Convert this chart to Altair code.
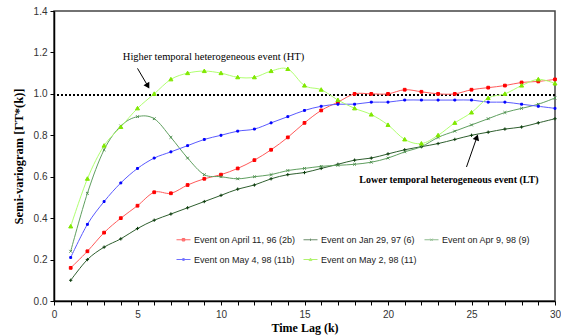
import altair as alt
import pandas as pd

lags = list(range(1, 31))
series_names = [
    "Event on April 11, 96 (2b)",
    "Event on Jan 29, 97 (6)",
    "Event on Apr 9, 98 (9)",
    "Event on May 4, 98 (11b)",
    "Event on May 2, 98 (11)",
]
# legend entries are laid out column by column (2 rows, 3 columns)
legend_order = [
    "Event on April 11, 96 (2b)",
    "Event on May 4, 98 (11b)",
    "Event on Jan 29, 97 (6)",
    "Event on May 2, 98 (11)",
    "Event on Apr 9, 98 (9)",
]
apr11_96 = [0.16, 0.24, 0.33, 0.40, 0.46, 0.525, 0.52, 0.56, 0.59, 0.61, 0.64, 0.68, 0.73, 0.79, 0.86,
            0.92, 0.96, 1.00, 1.00, 1.00, 1.02, 1.01, 1.00, 1.00, 1.02, 1.03, 1.04, 1.055, 1.06, 1.07]
jan29_97 = [0.10, 0.20, 0.26, 0.30, 0.35, 0.39, 0.42, 0.45, 0.48, 0.51, 0.54, 0.56, 0.59, 0.61, 0.62,
            0.64, 0.66, 0.68, 0.69, 0.71, 0.73, 0.745, 0.76, 0.78, 0.80, 0.815, 0.83, 0.84, 0.86, 0.88]
apr9_98 = [0.24, 0.52, 0.73, 0.845, 0.89, 0.88, 0.79, 0.69, 0.61, 0.60, 0.59, 0.60, 0.61, 0.63, 0.64,
           0.65, 0.655, 0.66, 0.67, 0.69, 0.72, 0.745, 0.79, 0.82, 0.85, 0.88, 0.91, 0.93, 0.95, 0.98]
may4_98 = [0.21, 0.37, 0.48, 0.57, 0.64, 0.69, 0.72, 0.75, 0.78, 0.80, 0.82, 0.83, 0.86, 0.89, 0.92,
           0.94, 0.95, 0.95, 0.96, 0.96, 0.97, 0.97, 0.97, 0.97, 0.97, 0.96, 0.96, 0.95, 0.94, 0.93]
may2_98 = [0.36, 0.59, 0.75, 0.84, 0.93, 1.00, 1.07, 1.10, 1.11, 1.10, 1.08, 1.08, 1.11, 1.12, 1.04,
           1.02, 0.97, 0.93, 0.90, 0.85, 0.78, 0.76, 0.80, 0.86, 0.91, 0.98, 1.00, 1.04, 1.07, 1.05]

threshold = [0.995]
x_ticks = list(range(0, 31))
y_ticks = [0.0, 0.2, 0.4, 0.6, 0.8, 1.0, 1.2, 1.4]

ht_label = ["Higher temporal heterogeneous event (HT)"]
ht_label_pos = [9.55, 1.177]
ht_arrow = [[5.0, 1.123], [5.62, 1.038]]
lt_label = ["Lower temporal heterogeneous event (LT)"]
lt_label_pos = [23.65, 0.583]
lt_arrow = [[24.7, 0.647], [25.32, 0.79]]

series_line_colors = {
    "Event on April 11, 96 (2b)": "#ff5a5a",
    "Event on Jan 29, 97 (6)": "#2f5f2f",
    "Event on Apr 9, 98 (9)": "#5f9f5f",
    "Event on May 4, 98 (11b)": "#5a5aff",
    "Event on May 2, 98 (11)": "#b0ff70",
}
series_marker_colors = {
    "Event on April 11, 96 (2b)": "#ff0000",
    "Event on Jan 29, 97 (6)": "#0b3b0b",
    "Event on Apr 9, 98 (9)": "#4f8f4f",
    "Event on May 4, 98 (11b)": "#0000ff",
    "Event on May 2, 98 (11)": "#80e800",
}
series_legend_colors = {
    "Event on April 11, 96 (2b)": "#ff2a2a",
    "Event on Jan 29, 97 (6)": "#2f5f2f",
    "Event on Apr 9, 98 (9)": "#5f9f5f",
    "Event on May 4, 98 (11b)": "#3535ff",
    "Event on May 2, 98 (11)": "#90ee30",
}
series_marker_paths = {
    "Event on April 11, 96 (2b)": "M-0.5,-0.5H0.5V0.5H-0.5Z",
    "Event on Jan 29, 97 (6)": "M-0.6,0H0.6M0,-0.6V0.6",
    "Event on Apr 9, 98 (9)": "M-0.5,-0.5L0.5,0.5M-0.5,0.5L0.5,-0.5",
    "Event on May 4, 98 (11b)": "M-0.5,-0.5H0.5V0.5H-0.5Z",
    "Event on May 2, 98 (11)": "M0,-0.6L0.6,0.45H-0.6Z",
}
series_marker_sizes = {
    "Event on April 11, 96 (2b)": 30,
    "Event on Jan 29, 97 (6)": 30,
    "Event on Apr 9, 98 (9)": 30,
    "Event on May 4, 98 (11b)": 14,
    "Event on May 2, 98 (11)": 45,
}
series_legend_paths = {
    "Event on April 11, 96 (2b)": "M-1,0H1M-0.18,-0.18H0.18V0.18H-0.18Z",
    "Event on Jan 29, 97 (6)": "M-1,0H1M0,-0.16V0.16",
    "Event on Apr 9, 98 (9)": "M-1,0H1M-0.16,-0.16L0.16,0.16M-0.16,0.16L0.16,-0.16",
    "Event on May 4, 98 (11b)": "M-1,0H1M-0.12,-0.12H0.12V0.12H-0.12Z",
    "Event on May 2, 98 (11)": "M-1,0H1M0,-0.2L0.2,0.15H-0.2Z",
}

values = [apr11_96, jan29_97, apr9_98, may4_98, may2_98]
rows = []
for name, vals in zip(series_names, values):
    for k, v in zip(lags, vals):
        rows.append({"k": k, "v": v, "series": name})
df = pd.DataFrame(rows)

serif = "Liberation Serif"
sans = "Liberation Sans"

x_enc = alt.X("k:Q", scale=alt.Scale(domain=[0, 30], nice=False), axis=alt.Axis(
    title="Time Lag (k)", values=x_ticks, labelExpr="datum.value % 5 == 0 ? datum.label : ''",
    labelOverlap=False, grid=False, tickSize=4, labelPadding=4, titlePadding=3, labelFont=sans,
    labelFontSize=10, labelColor="#333", titleFont=serif, titleFontSize=12, titleFontWeight="bold",
    titleColor="#000", domainColor="#000", domainWidth=1.5, tickColor="#000", labelFlush=False))
y_enc = alt.Y("v:Q", scale=alt.Scale(domain=[0, 1.4], nice=False), axis=alt.Axis(
    title="Semi-variogram [ΓT*(k)]", values=y_ticks, format=".1f", grid=False, tickSize=4,
    labelPadding=3, titlePadding=8, labelFont=sans, labelFontSize=10, labelColor="#333",
    titleFont=serif, titleFontSize=12.5, titleFontWeight="bold", titleColor="#000",
    domainColor="#000", domainWidth=1.5, tickColor="#000"))

base = alt.Chart(df)

leg = alt.Legend(title=None, orient="none", legendX=122, legendY=221, columns=3,
                 symbolSize=196, symbolStrokeWidth=1, labelFont=sans, labelFontSize=9,
                 labelColor="#222", labelOffset=3, columnPadding=5, rowPadding=7,
                 labelLimit=200)

legend_layer = base.mark_point(filled=True, size=0, strokeWidth=1).encode(
    x=x_enc, y=y_enc,
    fill=alt.Fill("series:N", scale=alt.Scale(
        domain=legend_order, range=[series_legend_colors[s] for s in legend_order]), legend=leg),
    stroke=alt.Stroke("series:N", scale=alt.Scale(
        domain=legend_order, range=[series_legend_colors[s] for s in legend_order]), legend=leg),
    shape=alt.Shape("series:N", scale=alt.Scale(
        domain=legend_order, range=[series_legend_paths[s] for s in legend_order]), legend=leg),
)

lines = base.mark_line(interpolate="cardinal", strokeWidth=1).encode(
    x=x_enc, y=y_enc,
    color=alt.Color("series:N", scale=alt.Scale(
        domain=series_names, range=[series_line_colors[s] for s in series_names]), legend=None),
    detail="series:N",
)

point_layers = []
for name in series_names:
    point_layers.append(
        base.transform_filter(alt.datum.series == name).mark_point(
            shape=series_marker_paths[name], filled=True, size=series_marker_sizes[name],
            fill=series_marker_colors[name], stroke=series_marker_colors[name], strokeWidth=1, opacity=1,
        ).encode(x=x_enc, y=y_enc)
    )

thr_df = pd.DataFrame({"v": threshold})
thr = alt.Chart(thr_df).mark_rule(color="#000", strokeWidth=2, strokeDash=[2, 2]).encode(y=y_enc)

ht_df = pd.DataFrame({"k": [ht_label_pos[0]], "v": [ht_label_pos[1]], "t": ht_label})
ht_text = alt.Chart(ht_df).mark_text(font=serif, fontSize=10.5, color="#000").encode(
    x=x_enc, y=y_enc, text="t:N")
lt_df = pd.DataFrame({"k": [lt_label_pos[0]], "v": [lt_label_pos[1]], "t": lt_label})
lt_text = alt.Chart(lt_df).mark_text(font=serif, fontSize=10, fontWeight="bold", color="#000").encode(
    x=x_enc, y=y_enc, text="t:N")

arr_df = pd.DataFrame({
    "k": [ht_arrow[0][0], ht_arrow[1][0], lt_arrow[0][0], lt_arrow[1][0]],
    "v": [ht_arrow[0][1], ht_arrow[1][1], lt_arrow[0][1], lt_arrow[1][1]],
    "g": ["ht", "ht", "lt", "lt"],
})
arr_lines = alt.Chart(arr_df).mark_line(color="#000", strokeWidth=1).encode(x=x_enc, y=y_enc, detail="g:N")
head_df = pd.DataFrame({
    "k": [ht_arrow[1][0], lt_arrow[1][0]],
    "v": [ht_arrow[1][1], lt_arrow[1][1]],
    "a": [150, 19],
})
heads = alt.Chart(head_df).mark_point(shape="triangle-up", filled=True, color="#000", size=45, opacity=1).encode(
    x=x_enc, y=y_enc, angle=alt.Angle("a:Q", scale=None))

chart = alt.layer(legend_layer, thr, lines, *point_layers, arr_lines, heads, ht_text, lt_text).properties(
    width=501, height=290,
    autosize=alt.AutoSizeParams(type="none"),
    padding={"left": 54, "top": 11, "right": 6, "bottom": 35},
).configure(background="white").configure_view(stroke="#444", strokeWidth=1.5)

chart.save("out.html", embed_options={"renderer": "svg", "actions": False})
